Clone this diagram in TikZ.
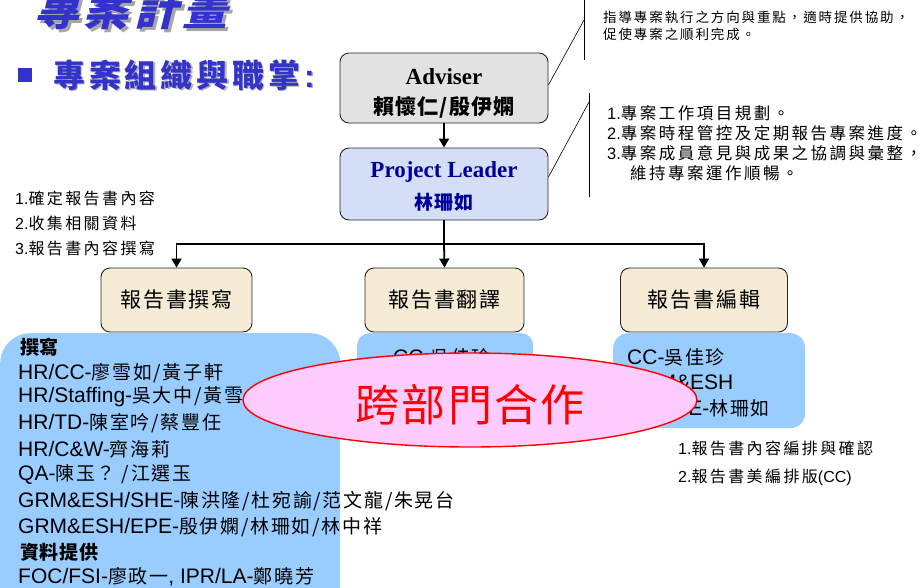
\documentclass[tikz,border=0pt]{standalone}
\usepackage{fontspec}
\setmainfont{Liberation Sans}
\newfontfamily\cjk{Noto Sans CJK TC}
\newfontfamily\serifb{Liberation Serif}
\usetikzlibrary{arrows.meta,calc,shapes.geometric}
\definecolor{titleblue}{RGB}{51,51,204}
\definecolor{advgray}{RGB}{226,226,226}
\definecolor{plblue}{RGB}{212,222,246}
\definecolor{parch}{RGB}{246,235,212}
\definecolor{skyb}{RGB}{153,204,255}
\definecolor{pinkf}{RGB}{255,204,255}
\definecolor{navy}{RGB}{0,0,153}
\newcommand\zh[2][15]{{\cjk\addfontfeature{LetterSpace=#1}#2}}
\newcommand\zhb[2][15]{{\cjk\bfseries\addfontfeature{LetterSpace=#1}#2}}
\newcommand\fs[1]{\fontsize{#1}{#1}\selectfont}
\newcommand\zl[1]{{\fs{19}\zh[9]{#1}}}
\begin{document}
\begin{tikzpicture}[x=1pt,y=-1pt,
  every node/.style={inner sep=0pt},
  chart/.style={draw=black!85, line width=0.9pt, rounded corners=9pt},
  task/.style={chart, fill=parch, minimum height=64pt},
  link/.style={line width=1.8pt, -{Triangle[length=9pt,width=10pt]}},
  plain/.style={line width=1.8pt},
  callout/.style={line width=0.6pt},
  team/.style={fill=skyb, anchor=north west},
  txt/.style={anchor=west},
  lst/.style={anchor=west, font=\fs{21}}]
\useasboundingbox (0,0) rectangle (924,587);
% title
\node[text=black!35] (titlesh) at (134,11) {\fs{45}{\cjk\bfseries\addfontfeature{FakeSlant=0.25,LetterSpace=10}專案計畫}};
\node[text=titleblue] (title) at (131,8) {\fs{45}{\cjk\bfseries\addfontfeature{FakeSlant=0.25,LetterSpace=10}專案計畫}};
\node[fill=titleblue, minimum size=14pt] (bullet) at (24.5,75) {};
\node[anchor=west, text=black!30] (subsh) at (54.5,76.5) {\fs{32}\zhb[12]{專案組織與職掌}\textbf{:}};
\node[anchor=west, text=titleblue] (sub) at (53,75) {\fs{32}\zhb[12]{專案組織與職掌}\textbf{:}};
% adviser / leader
\node[chart, fill=advgray, minimum width=208pt, minimum height=70pt] (adv) at (444,88) {};
\node (advt1) at (444,77) {\fs{23}\serifb\bfseries Adviser};
\node (advt2) at (444,107) {\fs{21}\zhb[6]{賴懷仁/殷伊嫻}};
\node[chart, fill=plblue, minimum width=208pt, minimum height=72pt] (pl) at (444,184) {};
\node[text=navy] (plt1) at (444,172) {\fs{23}\serifb\bfseries Project Leader};
\node[text=navy] (plt2) at (444,202) {\fs{19}\zhb[6]{林珊如}};
% task boxes
\node[task, minimum width=151pt] (write) at (176.5,300) {\fs{21}\zh[9]{報告書撰寫}};
\node[task, minimum width=159pt] (trans) at (444.5,300) {\fs{21}\zh[9]{報告書翻譯}};
\node[task, minimum width=167pt] (edit) at (704,300) {\fs{21}\zh[9]{報告書編輯}};
% connectors
\draw[link] (adv) -- (pl);
\coordinate (j) at (444,244);
\draw[plain] (pl.south) -- (j);
\draw[link] (j) -- (trans.north);
\draw[link] (j) -| (write.north);
\draw[link] (j) -| (edit.north);
% callouts
\coordinate (c1top) at (584,0);
\coordinate (c1bot) at (584,60);
\coordinate (c1k) at (584,20);
\draw[callout] (c1top) -- (c1bot);
\draw[callout] ($(adv.east)+(0,-3)$) -- (c1k);
\coordinate (c2top) at (589,93);
\coordinate (c2bot) at (589,197);
\coordinate (c2k) at (589,102);
\draw[callout] (c2top) -- (c2bot);
\draw[callout] ($(pl.east)+(0,-7)$) -- (c2k);
\node[txt] (a1) at (603,17) {\fs{13.5}\zh[14]{指導專案執行之方向與重點，適時提供協助，}};
\node[txt] (a2) at (603,34) {\fs{13.5}\zh[14]{促使專案之順利完成。}};
\node[txt] (b1) at (607,113) {\fs{16.5}1.\zh[15]{專案工作項目規劃。}};
\node[txt] (b2) at (607,133) {\fs{16.5}2.\zh[15]{專案時程管控及定期報告專案進度。}};
\node[txt] (b3) at (607,153) {\fs{16.5}3.\zh[15]{專案成員意見與成果之協調與彙整，}};
\node[txt] (b4) at (630,173) {\fs{16.5}\zh[15]{維持專案運作順暢。}};
% left list
\node[txt] (w1) at (15,198) {\fs{16}1.\zh[15]{確定報告書內容}};
\node[txt] (w2) at (15,223) {\fs{16}2.\zh[15]{收集相關資料}};
\node[txt] (w3) at (15,248) {\fs{16}3.\zh[15]{報告書內容撰寫}};
% right list
\node[txt] (e1) at (678,448) {\fs{16}1.\zh[15]{報告書內容編排與確認}};
\node[txt] (e2) at (678,477) {\fs{16}2.\zh[15]{報告書美編排版}(CC)};
% team boxes
\node[team, rounded corners=30pt, minimum width=340pt, minimum height=320pt] (lbox) at (0,333) {};
\node[team, rounded corners=12pt, minimum width=176pt, minimum height=95pt] (mbox) at (357,333) {};
\node[team, rounded corners=15pt, minimum width=192pt, minimum height=95pt] (rbox) at (613,333) {};
\node[txt] (h1) at (20,347) {\fs{19}\zhb[4]{撰寫}};
\node[lst] (l1) at (18,373) {HR/CC-\zl{廖雪如/黃子軒}};
\node[lst] (l2) at (18,397) {HR/Staffing-\zl{吳大中/黃雪}};
\node[lst] (l3) at (18,423) {HR/TD-\zl{陳室吟/蔡豐任}};
\node[lst] (l4) at (18,449) {HR/C\&W-\zl{齊海莉}};
\node[lst] (l5) at (18,475) {QA-\zl{陳玉？ /江選玉}};
\node[lst] (l6) at (18,501) {GRM\&ESH/SHE-\zl{陳洪隆/杜宛諭/范文龍/朱晃台}};
\node[lst] (l7) at (18,527) {GRM\&ESH/EPE-\zl{殷伊嫻/林珊如/林中祥}};
\node[txt] (h2) at (20,552) {\fs{19}\zhb[4]{資料提供}};
\node[lst] (l8) at (18,577) {FOC/FSI-\zl{廖政一}, IPR/LA-\zl{鄭曉芳}};
\node[lst] (m1) at (393,357) {CC-\zl{吳佳珍}};
\node[lst] (r1) at (627,357) {CC-\zl{吳佳珍}};
\node[lst] (r2) at (627,382) {GRM\&ESH};
\node[lst, anchor=east] (r3) at (770,408) {/EPE-\zl{林珊如}};
% cooperation ellipse
\node[ellipse, draw=red, fill=pinkf, line width=1.4pt, minimum width=454pt, minimum height=94pt] (coop) at (470,400) {};
\node[text=red] (coopt) at (470,405) {\fs{44}\zh[5]{跨部門合作}};
\end{tikzpicture}
\end{document}
